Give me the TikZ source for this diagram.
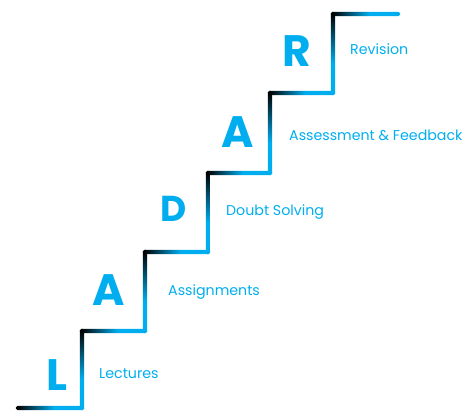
\documentclass[tikz,border=0pt]{standalone}
\usepackage{fontspec}
\setmainfont{Poppins}
\definecolor{stepblue}{RGB}{0,174,239}
\pgfdeclarehorizontalshading{treadshade}{100bp}{color(0bp)=(black); color(26bp)=(black); color(53bp)=(stepblue); color(100bp)=(stepblue)}
\pgfdeclareverticalshading{risershade}{100bp}{color(0bp)=(stepblue); color(44bp)=(stepblue); color(74bp)=(black); color(100bp)=(black)}
\tikzset{
  tread/.style={shading=treadshade, rounded corners=1.8pt},
  riser/.style={shading=risershade, rounded corners=1.8pt},
  bigletter/.style={text=stepblue, font=\bfseries\fontsize{44}{44}\selectfont, anchor=base, inner sep=0pt},
  steplabel/.style={text=stepblue, font=\fontsize{14.2}{14.2}\selectfont, anchor=base west, inner sep=0pt},
}
\begin{document}
\begin{tikzpicture}[x=1pt, y=-1pt]
\useasboundingbox (0,0) rectangle (472,412);
% risers (x, top y, bottom y)
\foreach \x/\yt/\yb in {82/331/408, 145/252/331, 208/173/252, 270/93/173, 333/14/93}{
  \shade[riser] (\x-2.2,\yt-2.2) rectangle (\x+2.2,\yb+2.2);
}
% treads (x0, x1, y)
\foreach \xa/\xb/\y in {18/82/408, 82/145/331, 145/208/252, 208/270/173, 270/333/93, 333/398/14}{
  \shade[tread] (\xa-2.2,\y-2.2) rectangle (\xb+2.2,\y+2.2);
}
\node[bigletter] (l1) at (56.5,390) {L};
\node[bigletter] (l2) at (108.5,305) {A};
\node[bigletter, font=\bfseries\fontsize{36}{36}\selectfont] (l3) at (174,222) {D};
\node[bigletter] (l4) at (237.5,147) {A};
\node[bigletter] (l5) at (296.5,67) {R};
\node[steplabel] (t1) at (99,378.5) {Lectures};
\node[steplabel] (t2) at (168,295) {Assignments};
\node[steplabel] (t3) at (226,215.5) {Doubt Solving};
\node[steplabel] (t4) at (289,140.5) {Assessment \& Feedback};
\node[steplabel] (t5) at (350,55) {Revision};
\end{tikzpicture}
\end{document}
